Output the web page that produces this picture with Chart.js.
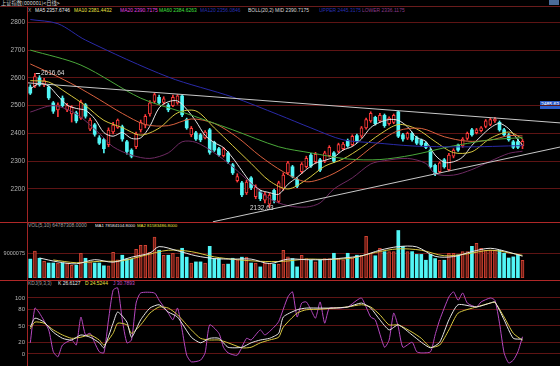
<!DOCTYPE html>
<html>
<head>
<meta charset="utf-8">
<script src="https://cdn.jsdelivr.net/npm/chart.js@4.4.0/dist/chart.umd.min.js"></script>
<style>
  html, body { margin: 0; padding: 0; background: #000; width: 560px; height: 366px; overflow: hidden; }
  body { position: relative; font-family: "Liberation Sans", Arial, sans-serif; }
  canvas { position: absolute; left: 0; }
  #c-price { top: 13px; }
  #c-vol   { top: 228px; }
  #c-kdj   { top: 284px; }
  /* tiny legend text: drawn at 8px and scaled down so no minimum font size kicks in */
  .t  { position: absolute; display: block; white-space: nowrap; font-size: 8px; line-height: 9px; transform: scale(0.62); transform-origin: 0 0; }
  .t.n { transform: scale(0.54); }
  .hl { position: absolute; left: 0; width: 560px; height: 1px; }
  .vl { position: absolute; width: 1px; }
  .title { position: absolute; left: 1px; top: 0; font: 8px/9px "Noto Sans CJK SC", sans-serif; color: #d0d0d0; white-space: nowrap; transform: scale(0.66); transform-origin: 0 0; }
  .pbox { position: absolute; left: 540px; top: 101px; width: 20px; height: 8px; background: #2c5cc8; overflow: hidden; }
  .pbox span { position: absolute; left: 1px; top: 1px; color: #fff; font-size: 8px; line-height: 9px; transform: scale(0.62); transform-origin: 0 0; white-space: nowrap; }
</style>
</head>
<body>
<div class="title">上证指数(000001)&lt;日线&gt;</div>
<div style="position:absolute;left:549px;top:0;width:10px;height:5px;background:#4a6c9a;"></div>

<div class="hl" style="top:6px;background:#6a1c1c;"></div>
<div class="hl" style="top:222px;background:#b02828;"></div>
<div class="hl" style="top:280px;background:#b02828;"></div>
<div class="vl" style="left:27px;top:7px;height:359px;background:#a02424;"></div>

<!-- main legend -->
<span class="t" style="left:28px;top:8px;color:#a0a0a0;">X</span>
<span class="t" style="left:35px;top:8px;color:#e8e8e8;">MA5 2357.6746</span>
<span class="t" style="left:74px;top:8px;color:#e8e040;">MA10 2381.4432</span>
<span class="t" style="left:120px;top:8px;color:#e040e0;">MA20 2390.7175</span>
<span class="t" style="left:159px;top:8px;color:#40e040;">MA60 2384.6263</span>
<span class="t" style="left:200px;top:8px;color:#2830b0;">MA120 2356.0846</span>
<span class="t" style="left:248px;top:8px;color:#d8d8d8;">BOLL(20,2) MID 2390.7175</span>
<span class="t" style="left:319px;top:8px;color:#2830b0;">UPPER 2445.3175</span>
<span class="t" style="left:362px;top:8px;color:#8a3a8a;">LOWER 2336.1175</span>

<!-- volume legend -->
<span class="t" style="left:28px;top:223px;color:#a0a0a0;">VOL(5,10) 64787308.0000</span>
<span class="t n" style="left:95px;top:223px;color:#e8e8e8;">MA1 78584104.8000</span>
<span class="t n" style="left:137px;top:223px;color:#e8e040;">MA2 81583486.8000</span>

<!-- kdj legend -->
<span class="t" style="left:28px;top:281px;color:#a0a0a0;">KDJ(9,3,3)</span>
<span class="t" style="left:58px;top:281px;color:#e8e8e8;">K 26.6127</span>
<span class="t" style="left:85px;top:281px;color:#e8e040;">D 24.5244</span>
<span class="t" style="left:113px;top:281px;color:#c050c8;">J 30.7893</span>

<div class="pbox"><span>2485.63</span></div>

<canvas id="c-price" width="560" height="209"></canvas>
<canvas id="c-vol" width="560" height="50"></canvas>
<canvas id="c-kdj" width="560" height="82"></canvas>

<script>
// ── Data ──────────────────────────────────────────────────────
const opens = [
  2567,2570,2600,2575,2567,2510,2485,2527,2485,2470, 2474,2455,2503,2415,2431,2384,2378,2360,2405,2422,
  2424,2370,2340,2352,2413,2430,2470,2515,2530,2512, 2502,2500,2510,2535,2450,2395,2402,2395,2384,2413,
  2368,2345,2320,2330,2287,2230,2222,2186,2240,2172, 2190,2160,2145,2195,2155,2200,2258,2280,2235,2262,
  2280,2322,2298,2305,2300,2320,2330,2335,2345,2375, 2360,2392,2390,2420,2445,2458,2445,2465,2435,2440,
  2478,2395,2383,2400,2385,2375,2365,2340,2285,2262, 2305,2270,2318,2358,2355,2382,2413,2403,2410,2425,
  2432,2445,2440,2413,2395,2370,2370,2355
];
const closes = [
  2545,2605,2575,2590,2528,2480,2503,2500,2500,2495, 2445,2513,2462,2448,2397,2365,2345,2412,2430,2448,
  2380,2335,2318,2398,2440,2462,2510,2540,2510,2525, 2485,2530,2535,2467,2420,2418,2380,2377,2405,2332,
  2340,2323,2345,2298,2258,2245,2179,2225,2205,2208, 2165,2180,2178,2160,2222,2250,2294,2245,2210,2290,
  2310,2283,2325,2268,2330,2350,2300,2360,2362,2355, 2390,2372,2420,2450,2472,2435,2465,2428,2455,2465,
  2390,2380,2400,2378,2365,2360,2350,2280,2255,2294, 2280,2322,2340,2340,2380,2400,2395,2413,2420,2445,
  2450,2452,2413,2395,2377,2350,2350,2372
];
const highs = [
  2575,2616.64,2608,2598,2572,2515,2510,2535,2508,2500, 2480,2520,2508,2455,2436,2392,2382,2420,2440,2452,
  2430,2375,2345,2405,2448,2468,2518,2545,2538,2532, 2508,2538,2540,2540,2455,2425,2408,2400,2410,2418,
  2372,2350,2350,2335,2292,2255,2228,2232,2245,2215, 2195,2188,2185,2200,2228,2258,2300,2285,2240,2295,
  2318,2328,2332,2310,2336,2356,2335,2365,2368,2380, 2395,2398,2425,2455,2478,2462,2472,2470,2460,2470,
  2480,2400,2405,2405,2390,2380,2370,2345,2290,2298, 2310,2328,2345,2362,2385,2405,2418,2418,2425,2450,
  2455,2458,2445,2418,2400,2375,2380,2378
];
const lows = [
  2540,2565,2570,2568,2522,2472,2460,2495,2478,2441, 2438,2450,2455,2410,2390,2360,2330,2352,2398,2418,
  2372,2325,2312,2345,2405,2420,2462,2510,2505,2505, 2478,2496,2505,2460,2415,2388,2375,2370,2380,2325,
  2335,2318,2315,2292,2252,2225,2172,2180,2198,2165, 2158,2150,2132.63,2150,2150,2195,2252,2240,2205,2255,
  2275,2278,2292,2262,2295,2315,2295,2330,2340,2350, 2355,2368,2385,2415,2440,2430,2440,2422,2430,2435,
  2385,2372,2378,2372,2360,2355,2345,2275,2248,2258, 2275,2265,2312,2335,2350,2376,2390,2398,2405,2420,
  2428,2440,2408,2390,2372,2345,2345,2345
];
// volume, in millions of shares
const volumes = [
  68,97,71,60,54,54,54,54,54,46, 46,89,71,58,54,54,44,44,92,65,
  82,68,68,103,118,118,92,147,100,82, 82,89,75,107,75,54,58,58,54,114,
  70,70,50,50,71,65,75,75,54,54, 40,54,54,50,50,100,76,70,40,82,
  70,64,58,65,70,70,89,72,65,89, 72,82,82,150,89,80,107,95,95,95,
  171,114,95,95,85,85,64,85,70,64, 64,89,89,83,95,95,114,125,107,100,
  100,100,100,89,72,76,83,64
];

// moving averages and bands, [day index, value]
const ma5 = [[0,2560],[2,2580],[4,2570],[6,2535],[8,2502],[10,2490],[12,2483],[14,2453],[16,2403],[18,2390],
  [20,2403],[22,2382],[24,2384],[26,2426],[28,2492],[30,2514],[32,2517],[34,2487],[36,2444],[38,2393],
  [40,2367],[42,2349],[44,2312],[46,2266],[48,2222],[50,2196],[52,2187],[54,2181],[56,2217],[58,2242],
  [60,2270],[62,2293],[64,2303],[66,2315],[68,2340],[70,2353],[72,2380],[74,2421],[76,2440],[78,2450],
  [80,2447],[82,2424],[84,2385],[86,2371],[88,2322],[90,2296],[92,2298],[94,2315],[96,2357],[98,2390],
  [100,2420],[102,2436],[104,2417],[106,2377],[107,2358]];
const ma10 = [[0,2590],[4,2585],[8,2545],[12,2500],[16,2447],[20,2421],[24,2394],[28,2419],[32,2474],[36,2481],
  [40,2420],[44,2356],[48,2292],[52,2229],[56,2200],[60,2233],[64,2282],[68,2308],[72,2349],[76,2397],
  [80,2432],[84,2416],[88,2371],[92,2331],[96,2334],[100,2382],[104,2405],[107,2381]];
const ma20 = [[0,2650],[5,2612],[10,2570],[15,2522],[20,2472],[25,2432],[30,2428],[35,2452],[40,2436],[45,2386],
  [50,2318],[55,2262],[60,2226],[65,2248],[70,2296],[75,2360],[80,2410],[85,2418],[90,2388],[95,2372],
  [100,2376],[104,2392],[107,2391]];
const ma60 = [[0,2700],[11,2646],[24,2527],[33,2477],[44,2413],[54,2352],[61,2330],[69,2308],[76,2306],[83,2322],
  [91,2352],[95,2364],[100,2377],[107,2385]];
const ma120 = [[0,2810],[6,2795],[12,2736],[30,2603],[44,2531],[54,2467],[61,2420],[68,2377],[75,2366],[83,2355],
  [90,2352],[97,2352],[104,2355],[107,2356]];
const bollLower = [[0,2477],[5,2500],[10,2470],[15,2400],[18,2352],[22,2322],[26,2310],[30,2330],[33,2370],[36,2368],
  [40,2330],[44,2280],[48,2220],[52,2165],[56,2140],[60,2135],[63,2150],[66,2200],[70,2240],[74,2290],
  [77,2302],[82,2310],[86,2292],[88,2255],[92,2250],[96,2270],[100,2300],[104,2328],[107,2336]];

// hand-drawn trend lines, [day index, price]
const trendUpper = [[-0.5,2582],[115.15,2438]];
const trendLower = [[39.7,2082],[115.15,2351]];

const volMa5 = [[2,72],[6,58],[10,51],[14,66],[18,57],[22,75],[26,90],[28,113],[32,98],[36,80],[40,70],[44,68],
  [48,68],[52,52],[56,68],[60,66],[64,66],[68,72],[72,80],[76,100],[80,113],[84,112],[88,78],[92,77],
  [96,95],[100,107],[104,93],[107,78.6]];
const volMa10 = [[5,65],[10,55],[15,60],[20,62],[25,82],[30,100],[35,95],[40,76],[45,66],[50,60],[55,60],
  [60,68],[65,67],[70,72],[75,92],[80,105],[85,100],[90,80],[95,87],[100,100],[105,88],[107,81.6]];

const kdjK = [[0,48],[1,64],[3,57],[5,39],[7,28],[9,25],[11,34],[13,30],[15,20],[16,11],[18,55],[19,75],[21,57],
  [22,30],[24,61],[26,82],[28,88],[30,75],[32,66],[35,30],[37,20],[39,28],[41,28],[43,12],[46,12],[48,20],
  [50,25],[52,28],[54,37],[55,66],[58,79],[60,82],[63,82],[66,82],[69,84],[72,91],[74,82],[76,61],[78,43],
  [80,52],[83,34],[85,21],[87,11],[89,21],[91,61],[93,88],[97,84],[100,91],[101,93],[103,61],[105,28],[107,26.6]];
const kdjD = [[0,45],[1,57],[3,55],[5,43],[7,34],[9,28],[11,30],[13,34],[15,25],[16,16],[18,37],[19,55],[21,52],
  [22,37],[24,52],[26,73],[28,84],[30,82],[32,70],[35,43],[37,28],[39,25],[41,25],[43,20],[46,11],[48,12],
  [50,20],[52,25],[54,30],[55,48],[58,73],[60,79],[63,80],[66,82],[69,84],[72,88],[74,84],[76,70],[78,52],
  [80,52],[83,39],[85,28],[87,12],[89,16],[91,43],[93,73],[97,84],[100,91],[101,92],[103,66],[105,37],[107,24.5]];
const kdjJ = [[0,20],[1,82],[2,73],[4,43],[5,4],[6,-5],[7,16],[9,25],[10,16],[11,66],[12,34],[13,37],[14,20],
  [15,4],[16,2],[17,61],[18,114],[19,118],[20,61],[21,20],[22,25],[23,91],[24,109],[27,109],[28,96],[30,73],
  [31,61],[32,82],[33,43],[34,-2],[35,-14],[37,-11],[38,2],[39,52],[41,37],[42,12],[43,2],[45,-2],[47,28],
  [48,25],[50,43],[51,34],[53,48],[54,58],[56,102],[57,111],[58,66],[59,91],[60,93],[61,79],[62,64],[63,93],
  [64,55],[65,82],[67,82],[69,84],[71,96],[72,100],[73,84],[74,66],[75,61],[77,12],[78,25],[79,73],[80,48],
  [81,12],[83,21],[84,4],[85,2],[87,4],[88,34],[89,61],[91,102],[92,111],[93,96],[94,109],[95,91],[97,84],
  [98,93],[100,100],[101,96],[102,55],[103,2],[104,-16],[105,-11],[106,4],[107,30.8]];

// axis ticks
const priceTicks = [2200, 2300, 2400, 2500, 2600, 2700, 2800];
const volTicks = [90];
const volTickLabels = ["9000075"];
const kdjTicks = [0, 20, 50, 80, 100];

// marked extremes
const peakDay = 1;
const troughDay = 52;

// ── Look ───────────────────────────────────────────────────────
const RED = "#ff3a3a";
const CYAN = "#52f6f6";
const GRID = "#5e1414";
const X_MIN = -0.5;
const X_MAX = 115.15;

Chart.defaults.font.family = '"Liberation Sans", Arial, sans-serif';

const isUp = i => closes[i] >= opens[i];
const pts = arr => arr.map(([x, y]) => ({ x, y }));

function line(data, color, width = 1, tension = 0.3) {
  return {
    type: "line", data: pts(data), borderColor: color, borderWidth: width,
    pointRadius: 0, tension, order: 0,
  };
}

function baseOptions(yMin, yMax, ticks, label, fontSize) {
  return {
    responsive: false,
    animation: false,
    events: [],
    layout: { padding: 0 },
    plugins: { legend: { display: false }, tooltip: { enabled: false } },
    scales: {
      x: { type: "linear", display: false, min: X_MIN, max: X_MAX, offset: false },
      y: {
        min: yMin, max: yMax,
        afterBuildTicks: s => { s.ticks = ticks.map(v => ({ value: v })); },
        afterFit: s => { s.width = 28; s.paddingTop = 0; s.paddingBottom = 0; },
        grid: { color: GRID, drawTicks: false },
        border: { display: false },
        ticks: { color: "#b4b4b4", padding: 3, font: { size: fontSize }, callback: label },
      },
    },
  };
}

// ── Price panel ───────────────────────────────────────────────
const markLabels = {
  id: "markLabels",
  afterDatasetsDraw(chart) {
    const { ctx, scales: { x, y } } = chart;
    ctx.save();
    ctx.font = '6.5px "Liberation Sans", Arial, sans-serif';
    ctx.fillStyle = "#dcdcdc";
    ctx.strokeStyle = "#dcdcdc";
    ctx.lineWidth = 1;
    ctx.textBaseline = "middle";

    const hx = x.getPixelForValue(peakDay);
    const hy = Math.round(y.getPixelForValue(highs[peakDay])) + 0.5;
    ctx.beginPath(); ctx.moveTo(hx + 1, hy); ctx.lineTo(hx + 5, hy); ctx.stroke();
    ctx.textAlign = "left";
    ctx.fillText(highs[peakDay].toFixed(2), hx + 6, hy);

    const lx = x.getPixelForValue(troughDay);
    const ly = y.getPixelForValue(lows[troughDay]);
    ctx.textAlign = "right";
    ctx.fillText(lows[troughDay].toFixed(2), lx + 4, ly);
    ctx.restore();
  },
};

new Chart(document.getElementById("c-price"), {
  type: "bar",
  data: {
    datasets: [
      line(trendUpper, "#c8c8c8", 1, 0),
      line(trendLower, "#c8c8c8", 1, 0),
      line(ma120, "#2a2aa8"),
      line(bollLower, "#6e2a62"),
      line(ma60, "#4aa83a"),
      line(ma20, "#d8603e"),
      line(ma10, "#d8c840"),
      line(ma5, "#e6e6e6"),
      {
        data: closes.map((c, i) => ({ x: i, y: [opens[i], c] })),
        backgroundColor: c => isUp(c.dataIndex) ? "#000" : CYAN,
        borderColor: c => isUp(c.dataIndex) ? RED : CYAN,
        borderWidth: c => isUp(c.dataIndex) ? 1 : 0,
        borderSkipped: false,
        barThickness: 3,
        grouped: false,
        order: 1,
      },
      {
        data: highs.map((h, i) => ({ x: i, y: [lows[i], h] })),
        backgroundColor: c => isUp(c.dataIndex) ? RED : CYAN,
        borderWidth: 0,
        barThickness: 1,
        grouped: false,
        order: 2,
      },
    ],
  },
  options: baseOptions(2081.2, 2833.5, priceTicks, v => String(v), 6.5),
  plugins: [markLabels],
});

// ── Volume panel ──────────────────────────────────────────────
new Chart(document.getElementById("c-vol"), {
  type: "bar",
  data: {
    datasets: [
      line(volMa5, "#e6e6e6"),
      line(volMa10, "#d8c840"),
      {
        data: volumes.map((v, i) => ({ x: i, y: v })),
        backgroundColor: c => isUp(c.dataIndex) ? "#6e1e16" : CYAN,
        borderColor: c => isUp(c.dataIndex) ? "#d04232" : CYAN,
        borderWidth: c => isUp(c.dataIndex) ? 1 : 0,
        borderSkipped: false,
        barThickness: 3,
        grouped: false,
        order: 1,
      },
    ],
  },
  options: baseOptions(0, 180, volTicks, (v, i) => volTickLabels[i], 5.5),
});

// ── KDJ panel ─────────────────────────────────────────────────
new Chart(document.getElementById("c-kdj"), {
  type: "line",
  data: {
    datasets: [
      line(kdjK, "#e6e6e6", 1, 0.2),
      line(kdjD, "#d8c840", 1, 0.2),
      line(kdjJ, "#b648c0", 1, 0.2),
    ],
  },
  options: baseOptions(-21.43, 125, kdjTicks, v => String(v), 6),
});
</script>
</body>
</html>
